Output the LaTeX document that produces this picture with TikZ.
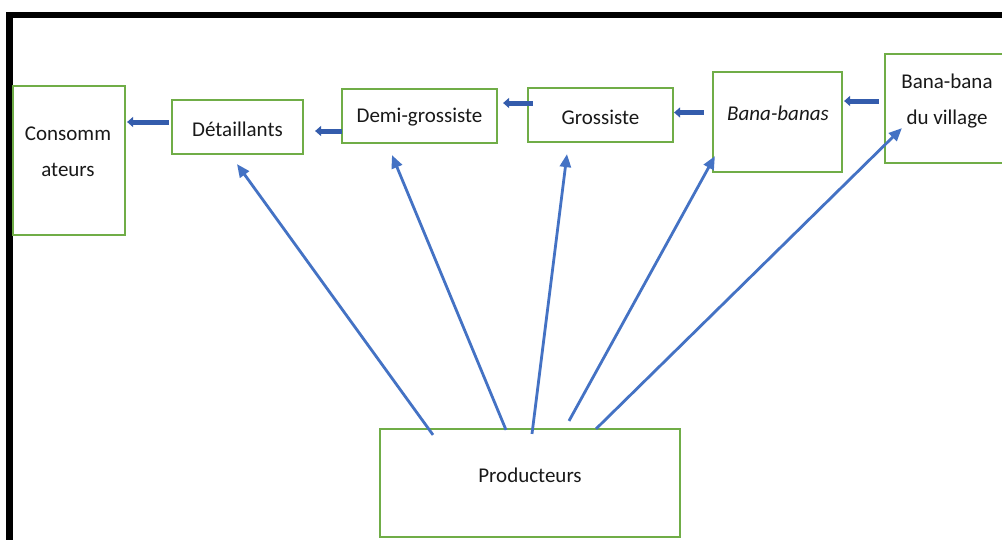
\documentclass[tikz,border=0pt]{standalone}
\usepackage{fontspec}
\setmainfont{Carlito}
\usetikzlibrary{arrows.meta}
\definecolor{boxgreen}{RGB}{112,173,71}
\definecolor{thinblue}{RGB}{68,114,196}
\definecolor{fatblue}{RGB}{52,92,172}
\tikzset{
  box/.style={draw=boxgreen, line width=2.2pt, fill=white, rectangle, inner sep=0pt},
  lbl/.style={font=\fontsize{21}{36}\selectfont, text=black!90, align=center, inner sep=0pt},
  fat/.style={draw=fatblue, line width=5pt, -{Triangle[length=6pt,width=10pt]}},
  thin/.style={draw=thinblue, line width=2.8pt, -{Triangle[length=13pt,width=11pt]}},
}
\begin{document}
\begin{tikzpicture}[x=1pt,y=-1pt]
\useasboundingbox[fill=white] (0,0) rectangle (1002,539);
% frame
\draw[line width=6.6pt, miter limit=10] (9.3,545) -- (9.3,15) -- (1010,15);
% boxes
\node[box, minimum width=112pt, minimum height=149pt] (cons) at (69,160.5) {};
\node[box, minimum width=131pt, minimum height=54pt] (det) at (237.5,127) {};
\node[box, minimum width=155pt, minimum height=54pt] (demi) at (419.5,116) {};
\node[box, minimum width=145pt, minimum height=54pt] (gros) at (600.5,115) {};
\node[box, minimum width=129pt, minimum height=100pt] (banas) at (777.5,122) {};
\node[box, minimum width=124pt, minimum height=109pt] (village) at (947,108.5) {};
\node[box, minimum width=300pt, minimum height=108pt] (prod) at (530,483) {};
% texts
\node[lbl] (tcons) at (68,152) {Consomm\\ateurs};
\node[lbl] (tdet) at (237.5,129) {Détaillants};
\node[lbl] (tdemi) at (419.5,117) {Demi-grossiste};
\node[lbl] (tgros) at (600.5,117) {Grossiste};
\node[lbl] (tbanas) at (778,113) {\itshape Bana-banas};
\node[lbl] (tvillage) at (947,101) {Bana-bana\\du village};
\node[lbl] (tprod) at (530,475) {Producteurs};
% thick horizontal arrows
\draw[fat, shorten <=2pt, shorten >=1pt] ([yshift=5pt]det.west) -- ([yshift=38.5pt]cons.east);
\draw[fat, shorten <=-1pt, shorten >=11pt] ([yshift=-15pt]demi.west) -- ([yshift=-4pt]det.east);
\draw[fat, shorten <=-6pt, shorten >=5pt] ([yshift=12pt]gros.west) -- ([yshift=13pt]demi.east);
\draw[fat, shorten <=8pt, shorten >=0pt] ([yshift=9.5pt]banas.west) -- ([yshift=2.5pt]gros.east);
\draw[fat, shorten <=5pt, shorten >=1pt] ([yshift=7.5pt]village.west) -- ([yshift=21pt]banas.east);
% thin arrows from producers
\draw[thin] ([xshift=-97pt,yshift=-7pt]prod.north) -- ([xshift=-0.5pt,yshift=-9pt]det.south);
\draw[thin] ([xshift=-24pt,yshift=-2pt]prod.north) -- ([xshift=-27.5pt,yshift=-11pt]demi.south);
\draw[thin] ([xshift=2pt,yshift=-6pt]prod.north) -- ([xshift=-33.5pt,yshift=-11pt]gros.south);
\draw[thin] ([xshift=39pt,yshift=7pt]prod.north) -- ([xshift=3pt,yshift=17pt]banas.south west);
\draw[thin] ([xshift=66pt,yshift=-1pt]prod.north) -- ([xshift=18pt,yshift=36pt]village.south west);
\end{tikzpicture}
\end{document}
